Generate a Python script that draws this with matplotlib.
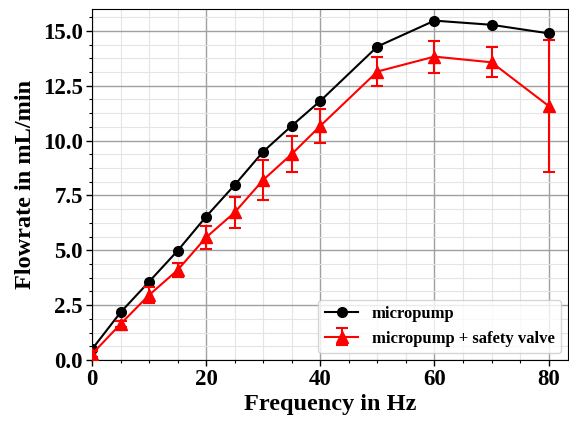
import matplotlib
matplotlib.use("Agg")
import matplotlib.pyplot as plt
from matplotlib.ticker import MultipleLocator, FormatStrFormatter

plt.rcParams['font.family'] = ['Liberation Serif', 'DejaVu Serif']
plt.rcParams['font.weight'] = 'bold'

freq = [0, 5, 10, 15, 20, 25, 30, 35, 40, 50, 60, 70, 80]
flow_pump = [0.49, 2.17, 3.57, 4.98, 6.54, 7.98, 9.50, 10.68, 11.81, 14.29, 15.47, 15.28, 14.89]
flow_valve = [0.27, 1.64, 2.96, 4.10, 5.59, 6.73, 8.21, 9.39, 10.67, 13.15, 13.83, 13.57, 11.58]
err_valve = [0.15, 0.15, 0.38, 0.32, 0.53, 0.72, 0.90, 0.82, 0.78, 0.68, 0.73, 0.68, 3.00]

fig = plt.figure(figsize=(5.69, 4.21), dpi=100)
ax = fig.add_axes([0.1617, 0.1449, 0.8366, 0.8337])

ax.plot(freq, flow_pump, color='black', marker='o', markersize=7,
        linewidth=1.5, label='micropump', zorder=3)
ax.errorbar(freq, flow_valve, yerr=err_valve, color='red', marker='^',
            markersize=9, linewidth=1.5, capsize=4, elinewidth=1.5,
            capthick=1.5, label='micropump + safety valve', zorder=3)

ax.set_xlim(0, 83.4)
ax.set_ylim(0, 16)
ax.xaxis.set_major_locator(MultipleLocator(20))
ax.xaxis.set_minor_locator(MultipleLocator(5))
ax.yaxis.set_major_locator(MultipleLocator(2.5))
ax.yaxis.set_minor_locator(MultipleLocator(0.625))
ax.yaxis.set_major_formatter(FormatStrFormatter('%.1f'))

ax.grid(which='major', color='#a0a0a0', linewidth=1.0)
ax.grid(which='minor', color='#e4e4e4', linewidth=0.8)
ax.set_axisbelow(True)

ax.tick_params(which='major', labelsize=16.5, length=4, width=1, pad=2.5)
ax.tick_params(which='minor', length=2.5, width=0.8)
for lbl in ax.get_xticklabels() + ax.get_yticklabels():
    lbl.set_fontweight('bold')

ax.set_xlabel('Frequency in Hz', fontsize=17.5, fontweight='bold', labelpad=3)
ax.set_ylabel('Flowrate in mL/min', fontsize=17.5, fontweight='bold', labelpad=5)

leg = ax.legend(loc='lower right', prop={'weight': 'bold', 'size': 12},
                framealpha=0.8, fancybox=True, borderaxespad=0.4)

fig.savefig('out.png', dpi=100)
